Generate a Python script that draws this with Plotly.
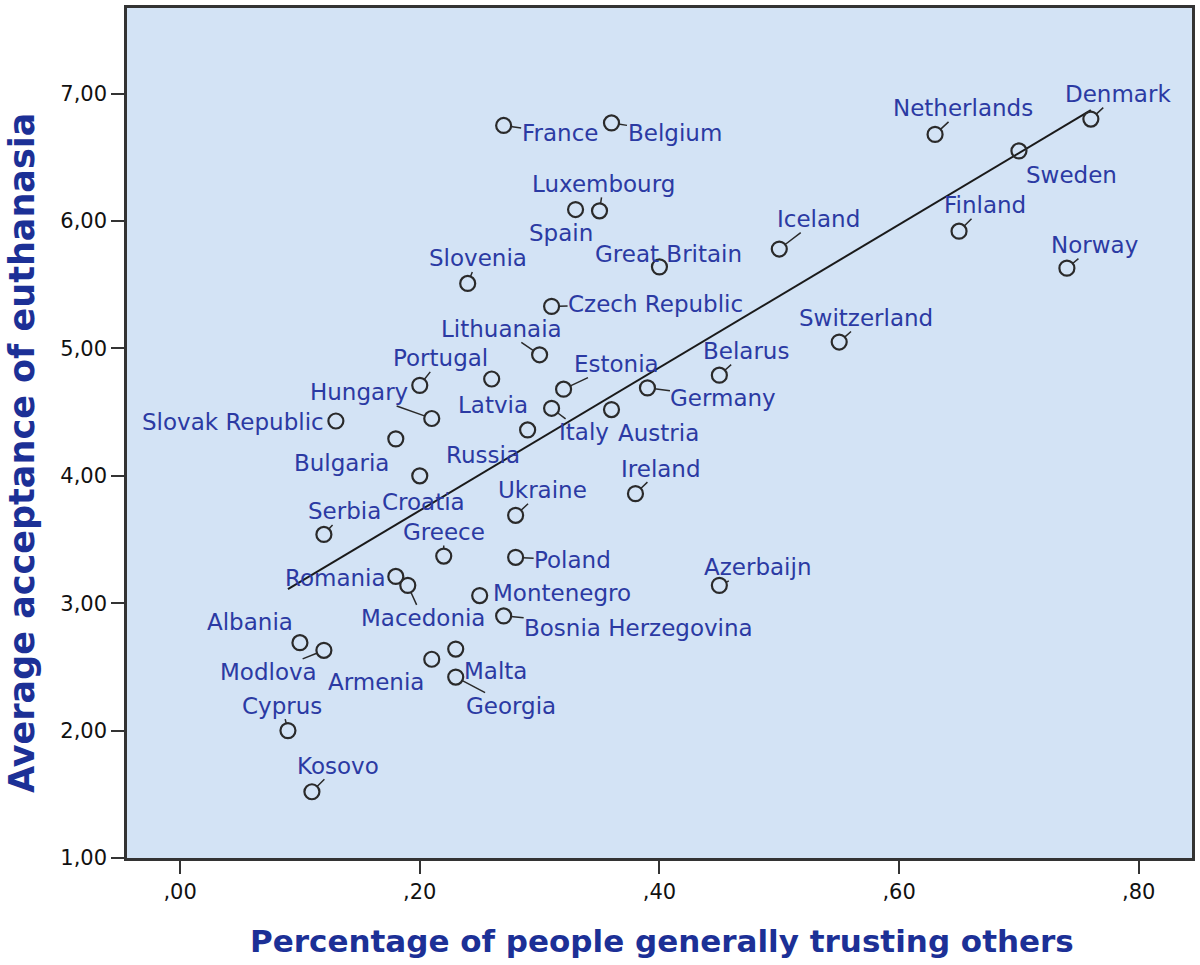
import plotly.graph_objects as go

# ---- data ----
countries = ["France", "Belgium", "Luxembourg", "Spain", "Slovenia", "Great Britain",
             "Czech Republic", "Iceland", "Netherlands", "Sweden", "Denmark", "Finland",
             "Norway", "Switzerland", "Belarus", "Germany", "Estonia", "Latvia", "Italy",
             "Austria", "Russia", "Lithuanaia", "Portugal", "Hungary", "Slovak Republic",
             "Bulgaria", "Croatia", "Serbia", "Greece", "Romania", "Macedonia",
             "Montenegro", "Bosnia Herzegovina", "Poland", "Ukraine", "Ireland",
             "Azerbaijn", "Albania", "Modlova", "Armenia", "Malta", "Georgia",
             "Cyprus", "Kosovo"]
trust = [0.27, 0.36, 0.35, 0.33, 0.24, 0.40,
         0.31, 0.50, 0.63, 0.70, 0.76, 0.65,
         0.74, 0.55, 0.45, 0.39, 0.32, 0.26, 0.31,
         0.36, 0.29, 0.30, 0.20, 0.21, 0.13,
         0.18, 0.20, 0.12, 0.22, 0.18, 0.19,
         0.25, 0.27, 0.28, 0.28, 0.38,
         0.45, 0.10, 0.12, 0.21, 0.23, 0.23,
         0.09, 0.11]
acceptance = [6.75, 6.77, 6.08, 6.09, 5.51, 5.64,
              5.33, 5.78, 6.68, 6.55, 6.80, 5.92,
              5.63, 5.05, 4.79, 4.69, 4.68, 4.76, 4.53,
              4.52, 4.36, 4.95, 4.71, 4.45, 4.43,
              4.29, 4.00, 3.54, 3.37, 3.21, 3.14,
              3.06, 2.90, 3.36, 3.69, 3.86,
              3.14, 2.69, 2.63, 2.56, 2.64, 2.42,
              2.00, 1.52]

fit_x = [0.09, 0.76]
fit_y = [3.11, 6.87]

x_tickvals = [0.0, 0.2, 0.4, 0.6, 0.8]
x_ticktext = [",00", ",20", ",40", ",60", ",80"]
y_tickvals = [1, 2, 3, 4, 5, 6, 7]
y_ticktext = ["1,00", "2,00", "3,00", "4,00", "5,00", "6,00", "7,00"]

# label placement (pixel offset of label centre from point, leader line on/off)
label_style = {
    "France": (56, 8, True), "Belgium": (63, 10, True), "Luxembourg": (4, -27, True),
    "Spain": (-15, 23, False), "Slovenia": (10, -25, True), "Great Britain": (9, -13, True),
    "Czech Republic": (104, -2, True), "Iceland": (39, -30, True),
    "Netherlands": (28, -26, True), "Sweden": (53, 24, False), "Denmark": (27, -25, True),
    "Finland": (26, -26, True), "Norway": (28, -23, True), "Switzerland": (27, -24, True),
    "Belarus": (27, -24, True), "Germany": (76, 10, True), "Estonia": (53, -25, True),
    "Latvia": (1, 26, False), "Italy": (32, 24, True), "Austria": (47, 23, False),
    "Russia": (-45, 25, False), "Lithuanaia": (-38, -26, True), "Portugal": (21, -27, True),
    "Hungary": (-73, -26, True), "Slovak Republic": (-103, 1, False),
    "Bulgaria": (-54, 24, False), "Croatia": (4, 26, False), "Serbia": (21, -23, True),
    "Greece": (0, -24, True), "Romania": (-60, 2, False), "Macedonia": (15, 33, True),
    "Montenegro": (82, -3, False), "Bosnia Herzegovina": (135, 12, True),
    "Poland": (57, 3, True), "Ukraine": (27, -25, True), "Ireland": (26, -25, True),
    "Azerbaijn": (38, -18, True), "Albania": (-50, -21, False), "Modlova": (-55, 22, True),
    "Armenia": (-56, 23, False), "Malta": (40, 22, False), "Georgia": (55, 29, True),
    "Cyprus": (-6, -25, True), "Kosovo": (26, -26, True),
}

LABEL_BLUE = "#2b3aa3"
TITLE_BLUE = "#1c3096"
FONT = "DejaVu Sans"

fig = go.Figure()
fig.add_trace(go.Scatter(
    x=fit_x, y=fit_y, mode="lines",
    line=dict(color="#1a1a1a", width=2), hoverinfo="skip", showlegend=False))
fig.add_trace(go.Scatter(
    x=trust, y=acceptance, mode="markers", text=countries,
    marker=dict(symbol="circle-open", size=15, color="#2a2a2a", line=dict(width=2.2)),
    showlegend=False))

annotations = []
for name, xv, yv in zip(countries, trust, acceptance):
    dx, dy, arrow = label_style[name]
    a = dict(x=xv, y=yv, xref="x", yref="y", text=name,
             font=dict(family=FONT, size=23, color=LABEL_BLUE))
    if arrow:
        a.update(showarrow=True, ax=dx, ay=dy, axref="pixel", ayref="pixel",
                 arrowhead=0, arrowwidth=1.5, arrowcolor="#2a2a2a",
                 standoff=7, borderpad=0)
    else:
        a.update(showarrow=False, xshift=dx, yshift=-dy)
    annotations.append(a)

annotations.append(dict(
    text="<b>Percentage of people generally trusting others</b>",
    xref="paper", yref="paper", x=0.502, y=-0.098, xanchor="center", yanchor="middle",
    showarrow=False, font=dict(family=FONT, size=31, color=TITLE_BLUE)))
annotations.append(dict(
    text="<b>Average acceptance of euthanasia</b>",
    xref="paper", yref="paper", x=-0.098, y=0.476, xanchor="center", yanchor="middle",
    textangle=-90, showarrow=False, font=dict(family=FONT, size=35, color=TITLE_BLUE)))

fig.update_layout(
    width=1200, height=965,
    margin=dict(l=127, r=5, t=5, b=107),
    paper_bgcolor="white", plot_bgcolor="#d3e3f5",
    hovermode=False,
    annotations=annotations,
    xaxis=dict(range=[-0.0443, 0.8444], tickvals=x_tickvals, ticktext=x_ticktext,
               showgrid=False, zeroline=False, showline=True, linecolor="#333333",
               linewidth=2.5, mirror=True, ticks="outside", ticklen=13, tickwidth=2,
               tickcolor="#333333",
               tickfont=dict(family=FONT, size=21, color="#111111")),
    yaxis=dict(range=[1, 7.672], tickvals=y_tickvals, ticktext=y_ticktext,
               showgrid=False, zeroline=False, showline=True, linecolor="#333333",
               linewidth=2.5, mirror=True, ticks="outside", ticklen=13, tickwidth=2,
               tickcolor="#333333",
               tickfont=dict(family=FONT, size=21, color="#111111")),
)

fig.write_html("out.html", config={"displayModeBar": False},
               post_script="document.body.style.margin='0';document.body.style.overflow='hidden';")
